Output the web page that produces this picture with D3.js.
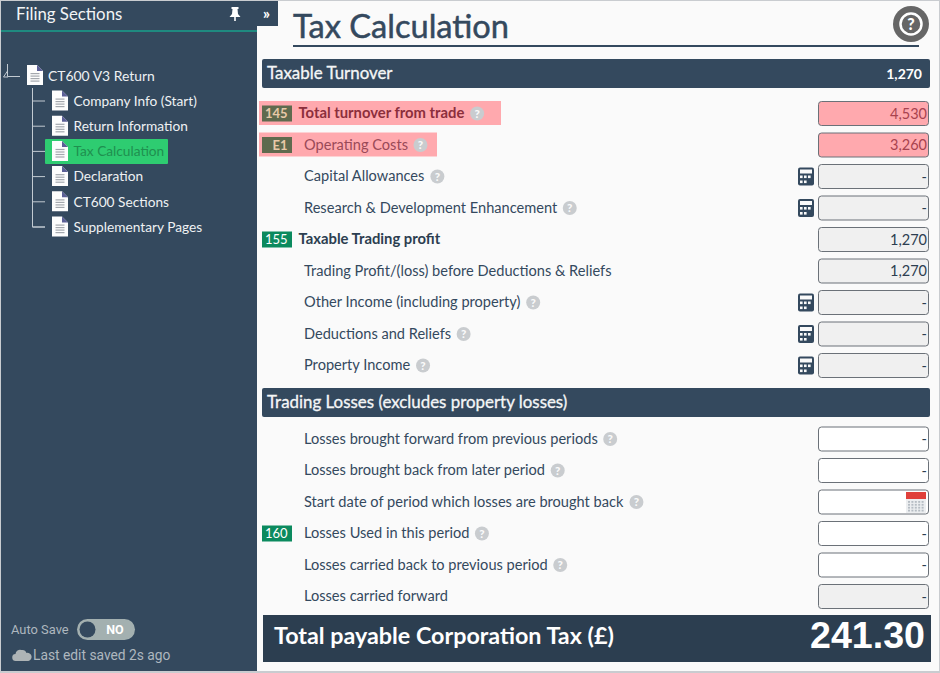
<!DOCTYPE html>
<html>
<head>
<meta charset="utf-8">
<title>Tax Calculation</title>
<script src="https://cdn.jsdelivr.net/npm/d3@7"></script>
<style>
html, body { margin: 0; padding: 0; background: #fff; }
svg { display: block; }
text { font-family: Lato, "Open Sans", sans-serif; }
</style>
</head>
<body>
<svg width="940" height="673"></svg>
<script>
// tree on the left
const treeRoot = "CT600 V3 Return";
const treeItems = ["Company Info (Start)", "Return Information", "Tax Calculation", "Declaration", "CT600 Sections", "Supplementary Pages"];
const activeItem = "Tax Calculation";

// first block of rows
const turnoverLabels = ["Total turnover from trade", "Operating Costs", "Capital Allowances", "Research & Development Enhancement", "Taxable Trading profit", "Trading Profit/(loss) before Deductions & Reliefs", "Other Income (including property)", "Deductions and Reliefs", "Property Income"];
const turnoverValues = ["4,530", "3,260", "-", "-", "1,270", "1,270", "-", "-", "-"];
const turnoverBadges = ["145", "E1", "", "", "155", "", "", "", ""];
const turnoverStates = ["error", "error", "calc", "calc", "readonly", "readonly", "calc", "calc", "calc"];
const turnoverHelp = [true, true, true, true, false, false, true, true, true];

// second block of rows
const lossLabels = ["Losses brought forward from previous periods", "Losses brought back from later period", "Start date of period which losses are brought back", "Losses Used in this period", "Losses carried back to previous period", "Losses carried forward"];
const lossValues = ["-", "-", "", "-", "-", "-"];
const lossBadges = ["", "", "", "160", "", ""];
const lossStates = ["input", "input", "date", "input", "input", "readonly"];
const lossHelp = [true, true, true, true, true, false];

const pageTitle = "Tax Calculation";
const turnoverHeading = "Taxable Turnover";
const turnoverTotal = "1,270";
const lossHeading = "Trading Losses (excludes property losses)";
const footerLabel = "Total payable Corporation Tax (£)";
const footerValue = "241.30";

const navy = "#34495e";
const svg = d3.select("svg");

const treeY = d3.scalePoint().domain(d3.range(treeItems.length)).range([101, 227]);
const turnoverY = d3.scalePoint().domain(d3.range(turnoverLabels.length)).range([113.5, 365.5]);
const lossY = d3.scalePoint().domain(d3.range(lossLabels.length)).range([439, 596.5]);

svg.append("rect").attr("width", 940).attr("height", 673).attr("fill", "#c9ccd0");
svg.append("rect").attr("x", 1).attr("y", 1).attr("width", 938).attr("height", 670).attr("fill", "#fafafa");

// sidebar
svg.append("rect").attr("x", 1).attr("y", 1).attr("width", 256).attr("height", 670).attr("fill", navy);
svg.append("rect").attr("x", 257).attr("y", 1).attr("width", 21).attr("height", 25).attr("fill", navy);
svg.append("rect").attr("x", 1).attr("y", 30).attr("width", 256).attr("height", 2).attr("fill", "#1f8a80");
svg.append("text").attr("x", 16).attr("y", 20).attr("font-size", 16.8).attr("fill", "#f2f4f5").text("Filing Sections");
svg.append("text").attr("x", 263).attr("y", 19).attr("font-size", 15).attr("font-weight", 900).attr("fill", "#fff").text("»");

// pin
const pin = svg.append("g").attr("transform", "translate(235,14)").attr("fill", "#fff");
pin.append("rect").attr("x", -3.5).attr("y", -7).attr("width", 7).attr("height", 2);
pin.append("path").attr("d", "M-2.5,-5 L2.5,-5 L3,0 L5.5,3 L-5.5,3 L-3,0 Z");
pin.append("rect").attr("x", -0.8).attr("y", 3).attr("width", 1.6).attr("height", 4);

function fileIcon(x, cy) {
  const g = svg.append("g").attr("transform", `translate(${x},${cy})`);
  g.append("path").attr("d", "M-8,-10 H2 L8,-4 V10 H-8 Z").attr("fill", "#fdfdfd");
  g.append("path").attr("d", "M2,-10 L8,-4 H2 Z").attr("fill", "#5b5f96");
  [-2, 0.5, 3, 5.5].forEach(d => {
    g.append("rect").attr("x", -4.5).attr("y", d).attr("width", 9).attr("height", 1.2).attr("fill", "#a4a8ae");
  });
}

// tree lines
const treeLine = "#c2cad1";
svg.append("path").attr("fill", "none").attr("stroke", treeLine).attr("stroke-width", 1)
  .attr("d", "M7.5,64 V76.5 H20 M7.5,71 L3.5,77 H8 M32.5,88 V" + treeY(treeItems.length - 1) + " H45");
treeItems.forEach((d, i) => {
  svg.append("line").attr("x1", 32.5).attr("x2", 45).attr("y1", treeY(i)).attr("y2", treeY(i)).attr("stroke", treeLine);
});
fileIcon(35, 75);
svg.append("text").attr("x", 48).attr("y", 80.5).attr("font-size", 13.9).attr("fill", "#eef1f3").text(treeRoot);

svg.append("g").selectAll("rect").data(treeItems.filter(d => d === activeItem)).enter().append("rect")
  .attr("x", 45).attr("width", 123).attr("height", 25).attr("rx", 1)
  .attr("y", d => treeY(treeItems.indexOf(d)) - 12.5)
  .attr("fill", "#2ecc71");
treeItems.forEach((d, i) => fileIcon(60, treeY(i) - 0.5));
svg.append("g").selectAll("text").data(treeItems).enter().append("text")
  .attr("x", 73.5).attr("y", (d, i) => treeY(i) + 4.8)
  .attr("font-size", 13.7)
  .attr("fill", d => d === activeItem ? "#1f8f4f" : "#eef1f3")
  .text(d => d);

// autosave
svg.append("text").attr("x", 11).attr("y", 634).style("font-family", "Roboto").attr("font-size", 12.9).attr("fill", "#aeb7bf").text("Auto Save");
svg.append("rect").attr("x", 77).attr("y", 619).attr("width", 58).attr("height", 21).attr("rx", 10.5).attr("fill", "#a3b0b0");
svg.append("circle").attr("cx", 87.5).attr("cy", 629.5).attr("r", 8).attr("fill", navy);
svg.append("text").attr("x", 115).attr("y", 634).attr("text-anchor", "middle").style("font-family", "Roboto").attr("font-weight", 700).attr("font-size", 12.5).attr("fill", "#fff").text("NO");
svg.append("path").attr("fill", "#aeb4b6").attr("d", "M16,661 a3.5,3.5 0 0 1 -0.5,-7 a4.5,4.5 0 0 1 6,-4 a4.5,4.5 0 0 1 5,3 a4,4 0 0 1 2,8 Z");
svg.append("text").attr("x", 33).attr("y", 660).style("font-family", "Roboto").attr("font-size", 13.8).attr("fill", "#aeb7bf").text("Last edit saved 2s ago");

// title
svg.append("text").attr("x", 293).attr("y", 38).attr("font-size", 32.6).attr("fill", navy)
  .attr("stroke", navy).attr("stroke-width", 0.5).text(pageTitle);
svg.append("rect").attr("x", 293).attr("y", 45).attr("width", 626).attr("height", 2).attr("fill", navy);
svg.append("circle").attr("cx", 911).attr("cy", 24).attr("r", 18).attr("fill", "#666");
svg.append("circle").attr("cx", 911).attr("cy", 24).attr("r", 10.5).attr("fill", "none").attr("stroke", "#fff").attr("stroke-width", 2.5);
svg.append("text").attr("x", 911).attr("y", 30).attr("text-anchor", "middle").attr("font-size", 16).attr("font-weight", 900).attr("fill", "#fff").text("?");

// section bars
function sectionBar(y, label, value) {
  svg.append("rect").attr("x", 262).attr("y", y).attr("width", 668).attr("height", 29).attr("rx", 2).attr("fill", navy);
  svg.append("text").attr("x", 267).attr("y", y + 19.5).attr("font-size", 16.9).attr("fill", "#f4f6f7")
    .attr("stroke", "#f4f6f7").attr("stroke-width", 0.3).text(label);
  if (value) svg.append("text").attr("x", 922).attr("y", y + 19.5).attr("text-anchor", "end").attr("font-size", 14).attr("font-weight", 700).attr("fill", "#fff").text(value);
}
sectionBar(59, turnoverHeading, turnoverTotal);
sectionBar(388, lossHeading);

// row highlight widths for the two errors
const errorWidths = [239, 176];

function helpIcon(x, cy) {
  svg.append("circle").attr("cx", x).attr("cy", cy).attr("r", 7).attr("fill", "#c9cccf");
  svg.append("text").attr("x", x).attr("y", cy + 4).attr("text-anchor", "middle").attr("font-size", 11.5).attr("font-weight", 900).attr("fill", "#fafafa").text("?");
}

function calcIcon(cy) {
  const g = svg.append("g").attr("transform", `translate(806,${cy})`);
  g.append("rect").attr("x", -8).attr("y", -9).attr("width", 16).attr("height", 18).attr("rx", 2).attr("fill", navy);
  g.append("rect").attr("x", -6).attr("y", -7).attr("width", 12).attr("height", 4).attr("fill", "#fafafa");
  [[-6, -1], [-2, -1], [2, -1], [-6, 4], [-2, 4]].forEach(p => {
    g.append("rect").attr("x", p[0]).attr("y", p[1]).attr("width", 2.6).attr("height", 2.6).attr("fill", "#fafafa");
  });
}

function dateIcon(cy) {
  const g = svg.append("g").attr("transform", `translate(916,${cy})`);
  g.append("rect").attr("x", -10).attr("y", -9).attr("width", 20).attr("height", 20).attr("fill", "#eceef0");
  g.append("rect").attr("x", -10).attr("y", -10).attr("width", 20).attr("height", 7).attr("fill", "#e0403a");
  d3.range(4).forEach(r => d3.range(5).forEach(c => {
    g.append("rect").attr("x", -8 + c * 3.4).attr("y", -1 + r * 2.9).attr("width", 2).attr("height", 1.8).attr("fill", "#b5bcc3");
  }));
}

function drawRows(labels, values, badges, states, help, y) {
  const ctx = document.createElement("canvas").getContext("2d");
  labels.forEach((label, i) => {
    const cy = y(i), state = states[i], err = state === "error";
    const strong = badges[i] === "145" || badges[i] === "155";
    if (err) svg.append("rect").attr("x", 259).attr("y", cy - 12.5).attr("width", errorWidths[i] + (i === 0 ? 3 : 2)).attr("height", 24).attr("fill", "#ffa9ae");
    if (badges[i]) {
      svg.append("rect").attr("x", 262).attr("y", cy - 8).attr("width", 30).attr("height", 16).attr("fill", err ? "#5f6a4e" : "#0b8a5e");
      svg.append("text").attr("x", 287.5).attr("y", cy + 4.5).attr("text-anchor", "end").attr("font-size", 13)
        .attr("font-weight", err ? 700 : 400)
        .attr("fill", err ? "#e8c9a8" : "#fff").text(badges[i]);
    }
    const tx = strong ? 298.5 : 304;
    const size = strong ? 14.8 : 14.6;
    svg.append("text").attr("x", tx).attr("y", cy + 4.5).attr("font-size", size)
      .attr("font-weight", strong ? 700 : 400)
      .attr("fill", err ? (strong ? "#8c2f3c" : "#9a4a58") : (strong ? "#2c3e50" : navy))
      .text(label);
    ctx.font = (strong ? "700 " : "400 ") + size + "px Lato";
    if (help[i]) helpIcon(tx + ctx.measureText(label).width + 12.5, cy);

    const fill = err ? "#ffa9ae" : (state === "input" || state === "date") ? "#fff" : "#f0f0f0";
    svg.append("rect").attr("x", 818.5).attr("y", cy - 12).attr("width", 110).attr("height", 24).attr("rx", 3)
      .attr("fill", fill).attr("stroke", "#6b7178").attr("stroke-width", 1);
    if (state === "calc") calcIcon(cy);
    if (state === "date") dateIcon(cy);
    if (values[i]) svg.append("text").attr("x", 927).attr("y", cy + 5).attr("text-anchor", "end").attr("font-size", 14.5)
      .attr("fill", err ? "#a8434f" : "#2c3e50").text(values[i]);
  });
}
drawRows(turnoverLabels, turnoverValues, turnoverBadges, turnoverStates, turnoverHelp, turnoverY);
drawRows(lossLabels, lossValues, lossBadges, lossStates, lossHelp, lossY);

// footer
svg.append("rect").attr("x", 263).attr("y", 615).attr("width", 668).attr("height", 47).attr("fill", "#2c3e50");
svg.append("text").attr("x", 274).attr("y", 644).attr("font-size", 23.3).attr("font-weight", 700).attr("fill", "#fff").text(footerLabel);
svg.append("text").attr("x", 925).attr("y", 648).attr("text-anchor", "end").style("font-family", "Liberation Sans").attr("font-size", 37.6).attr("font-weight", 700).attr("fill", "#fff").text(footerValue);
</script>
</body>
</html>
